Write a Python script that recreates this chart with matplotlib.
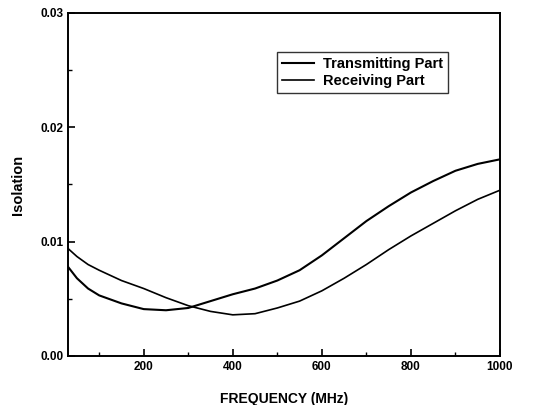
import numpy as np
import matplotlib.pyplot as plt

plt.rcParams["font.family"] = ["Liberation Sans", "DejaVu Sans"]
plt.rcParams["font.weight"] = "bold"

# frequency points (MHz)
freq = [30, 50, 75, 100, 150, 200, 250, 300, 350, 400, 450, 500, 550,
        600, 650, 700, 750, 800, 850, 900, 950, 1000]

# isolation
transmitting = [0.0078, 0.0068, 0.0059, 0.0053, 0.0046, 0.0041, 0.0040,
                0.0042, 0.0048, 0.0054, 0.0059, 0.0066, 0.0075, 0.0088,
                0.0103, 0.0118, 0.0131, 0.0143, 0.0153, 0.0162, 0.0168,
                0.0172]
receiving = [0.0094, 0.0087, 0.0080, 0.0075, 0.0066, 0.0059, 0.0051,
             0.0044, 0.0039, 0.0036, 0.0037, 0.0042, 0.0048, 0.0057,
             0.0068, 0.0080, 0.0093, 0.0105, 0.0116, 0.0127, 0.0137,
             0.0145]

fig = plt.figure(figsize=(5.42, 4.05), dpi=100)
ax = fig.add_axes([0.1255, 0.121, 0.797, 0.847])

ax.plot(freq, transmitting, color="black", lw=1.5, label="Transmitting Part")
ax.plot(freq, receiving, color="black", lw=1.2, label="Receiving Part")

ax.set_xlim(30, 1000)
ax.set_ylim(0, 0.03)
ax.set_xticks([200, 400, 600, 800, 1000])
ax.set_xticks(np.arange(100, 1001, 100), minor=True)
ax.set_yticks([0.0, 0.01, 0.02, 0.03])
ax.set_yticklabels(["0.00", "0.01", "0.02", "0.03"])
ax.set_yticks([0.005, 0.015, 0.025], minor=True)
ax.tick_params(direction="in", length=5, width=1.2, labelsize=8.5)
ax.tick_params(which="minor", direction="in", length=3, width=1)
for s in ax.spines.values():
    s.set_linewidth(1.4)

ax.set_xlabel("FREQUENCY (MHz)", fontsize=10, fontweight="bold", labelpad=14)
ax.set_ylabel("Isolation", fontsize=10.5, fontweight="bold", labelpad=11)

leg = ax.legend(loc="upper left", bbox_to_anchor=(0.484, 0.886),
                borderaxespad=0, fancybox=False, edgecolor="black",
                fontsize=10.5, handlelength=2.2, borderpad=0.35,
                labelspacing=0.2, handletextpad=0.6)
leg.get_frame().set_linewidth(1.0)

plt.savefig("out.png", dpi=100)
